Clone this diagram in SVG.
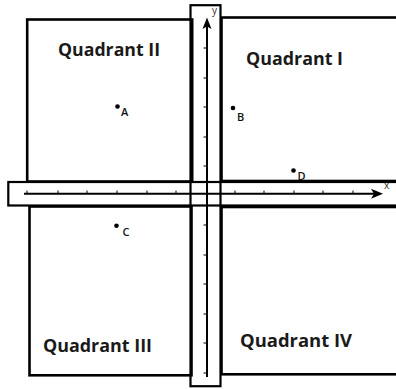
<svg xmlns="http://www.w3.org/2000/svg" width="396" height="389" viewBox="0 0 396 389">
  <style>
    .box { fill: none; stroke: #000; stroke-width: 2.6; }
    .strip { fill: none; stroke: #000; stroke-width: 2.2; }
    .axis { stroke: #000; stroke-width: 2; fill: none; }
    .tick { stroke: #000; stroke-width: 1; }
    .qlabel { font-family: "Open Sans", "Noto Sans", sans-serif; font-weight: bold; font-size: 18px; fill: #1a1a1a; }
    .plabel { font-family: "Open Sans", "Noto Sans", sans-serif; font-weight: 600; font-size: 11px; fill: #111; }
    .alabel { font-family: "Open Sans", "Noto Sans", sans-serif; font-size: 10px; fill: #333; }
    .dot { fill: #000; }
  </style>
  <rect x="0" y="0" width="396" height="389" fill="#fff"/>

  <g id="quadrant-II">
    <rect class="box" x="27.2" y="19.5" width="165" height="162"/>
    <text class="qlabel" x="58" y="56" textLength="102" lengthAdjust="spacingAndGlyphs">Quadrant II</text>
  </g>
  <g id="quadrant-I">
    <rect class="box" x="221.5" y="17.5" width="190" height="163.5"/>
    <text class="qlabel" x="246" y="65" textLength="97" lengthAdjust="spacingAndGlyphs">Quadrant I</text>
  </g>
  <g id="quadrant-III">
    <rect class="box" x="29.5" y="206.5" width="162" height="168.8"/>
    <text class="qlabel" x="43" y="352" textLength="109" lengthAdjust="spacingAndGlyphs">Quadrant III</text>
  </g>
  <g id="quadrant-IV">
    <rect class="box" x="221.5" y="207" width="190" height="167.3"/>
    <text class="qlabel" x="240" y="347" textLength="112" lengthAdjust="spacingAndGlyphs">Quadrant IV</text>
  </g>

  <g id="vertical-strip">
    <rect class="strip" x="190.5" y="5.2" width="30" height="381"/>
  </g>
  <g id="horizontal-strip">
    <rect class="strip" x="8.3" y="182" width="400" height="23.5"/>
  </g>

  <g id="connectors">
    <g id="x-axis">
      <line class="axis" x1="24" y1="193.8" x2="376" y2="193.8"/>
      <path d="M383,193.8 L371,188.8 L374,193.8 L371,198.8 Z" fill="#000"/>
      <g class="tick">
        <line x1="27" y1="190.5" x2="27" y2="194"/>
        <line x1="58" y1="190.5" x2="58" y2="194"/>
        <line x1="87" y1="190.5" x2="87" y2="194"/>
        <line x1="117" y1="190.5" x2="117" y2="194"/>
        <line x1="147" y1="190.5" x2="147" y2="194"/>
        <line x1="176" y1="190.5" x2="176" y2="194"/>
        <line x1="235" y1="190.5" x2="235" y2="194"/>
        <line x1="264" y1="190.5" x2="264" y2="194"/>
        <line x1="294" y1="190.5" x2="294" y2="194"/>
        <line x1="323" y1="190.5" x2="323" y2="194"/>
        <line x1="353" y1="190.5" x2="353" y2="194"/>
      </g>
      <text class="alabel" x="384" y="189">x</text>
    </g>
    <g id="y-axis">
      <line class="axis" x1="207" y1="26" x2="207" y2="377"/>
      <path d="M207,17.5 L202.5,29 L207,26.5 L211.5,29 Z" fill="#000"/>
      <g class="tick">
        <line x1="203.5" y1="48" x2="207" y2="48"/>
        <line x1="203.5" y1="78" x2="207" y2="78"/>
        <line x1="203.5" y1="107" x2="207" y2="107"/>
        <line x1="203.5" y1="137" x2="207" y2="137"/>
        <line x1="203.5" y1="166" x2="207" y2="166"/>
        <line x1="203.5" y1="225" x2="207" y2="225"/>
        <line x1="203.5" y1="255" x2="207" y2="255"/>
        <line x1="203.5" y1="284" x2="207" y2="284"/>
        <line x1="203.5" y1="314" x2="207" y2="314"/>
        <line x1="203.5" y1="343" x2="207" y2="343"/>
        <line x1="203.5" y1="373" x2="207" y2="373"/>
      </g>
      <text class="alabel" x="212" y="14">y</text>
    </g>
  </g>

  <g id="point-A">
    <circle class="dot" cx="117.5" cy="106.5" r="2.3"/>
    <text class="plabel" x="121" y="115.5">A</text>
  </g>
  <g id="point-B">
    <circle class="dot" cx="233" cy="108" r="2.3"/>
    <text class="plabel" x="237" y="120.5">B</text>
  </g>
  <g id="point-C">
    <circle class="dot" cx="116.5" cy="225.8" r="2.3"/>
    <text class="plabel" x="122.5" y="236">C</text>
  </g>
  <g id="point-D">
    <circle class="dot" cx="293.5" cy="170.5" r="2.3"/>
    <text class="plabel" x="297.5" y="179.5">D</text>
  </g>
</svg>
